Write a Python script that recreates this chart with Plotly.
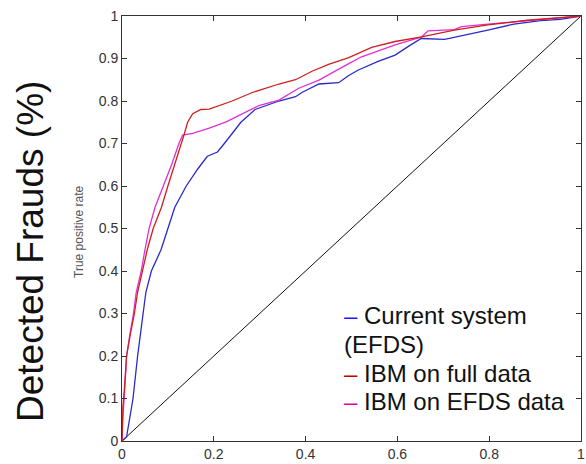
import plotly.graph_objects as go

# ---- data ----
blue_x = [0, 0.01, 0.024, 0.034, 0.046, 0.052, 0.064, 0.085, 0.1, 0.115, 0.14, 0.165, 0.186, 0.208,
          0.223, 0.259, 0.29, 0.342, 0.378, 0.392, 0.429, 0.472, 0.494, 0.515, 0.558, 0.595, 0.623,
          0.652, 0.703, 0.739, 0.797, 0.854, 0.912, 0.955, 1.0]
blue_y = [0, 0.01, 0.1, 0.2, 0.3, 0.35, 0.4, 0.45, 0.5, 0.55, 0.6, 0.64, 0.67, 0.68,
          0.7, 0.75, 0.78, 0.8, 0.81, 0.82, 0.84, 0.843, 0.86, 0.873, 0.893, 0.908, 0.928,
          0.947, 0.945, 0.953, 0.967, 0.981, 0.989, 0.992, 1.0]

red_x = [0, 0.002, 0.005, 0.01, 0.018, 0.027, 0.034, 0.045, 0.055, 0.068, 0.086, 0.1, 0.115, 0.129,
         0.135, 0.143, 0.154, 0.172, 0.19, 0.24, 0.284, 0.342, 0.378, 0.414, 0.45, 0.494, 0.544,
         0.595, 0.653, 0.724, 0.797, 0.883, 0.95, 1.0]
red_y = [0, 0.08, 0.12, 0.2, 0.25, 0.3, 0.35, 0.4, 0.45, 0.5, 0.55, 0.6, 0.65, 0.7,
         0.72, 0.75, 0.77, 0.78, 0.781, 0.8, 0.82, 0.84, 0.85, 0.87, 0.886, 0.902, 0.926,
         0.94, 0.951, 0.967, 0.979, 0.99, 0.995, 1.0]

mag_x = [0, 0.002, 0.006, 0.01, 0.017, 0.025, 0.031, 0.042, 0.05, 0.059, 0.072, 0.09, 0.108, 0.124,
         0.132, 0.154, 0.19, 0.227, 0.263, 0.3, 0.342, 0.385, 0.429, 0.45, 0.494, 0.522, 0.595,
         0.653, 0.667, 0.724, 0.74, 0.797, 0.854, 0.92, 1.0]
mag_y = [0, 0.06, 0.12, 0.2, 0.25, 0.3, 0.35, 0.4, 0.45, 0.5, 0.55, 0.6, 0.65, 0.7,
         0.72, 0.724, 0.736, 0.751, 0.771, 0.79, 0.802, 0.83, 0.849, 0.862, 0.888, 0.904, 0.932,
         0.951, 0.965, 0.968, 0.975, 0.981, 0.986, 0.992, 1.0]

diag_x = [0, 1]
diag_y = [0, 1]

x_ticks = [0, 0.2, 0.4, 0.6, 0.8, 1.0]
x_tick_labels = ["0", "0.2", "0.4", "0.6", "0.8", "1"]
y_ticks = [0, 0.1, 0.2, 0.3, 0.4, 0.5, 0.6, 0.7, 0.8, 0.9, 1.0]
y_tick_labels = ["0", "0.1", "0.2", "0.3", "0.4", "0.5", "0.6", "0.7", "0.8", "0.9", "1"]

series_names = ["Current system (EFDS)", "IBM on full data", "IBM on EFDS data"]
series_colors = ["#2a2ac8", "#cc2020", "#e030d0"]
legend_dash_colors = ["#1a1aff", "#c00000", "#e000a0"]

FONT = "Arial, Liberation Sans, Helvetica, sans-serif"

fig = go.Figure()
fig.add_trace(go.Scatter(x=diag_x, y=diag_y, mode="lines", line=dict(color="#111111", width=1),
                         showlegend=False, hoverinfo="skip"))
fig.add_trace(go.Scatter(x=blue_x, y=blue_y, mode="lines", name=series_names[0],
                         line=dict(color=series_colors[0], width=1.3), showlegend=False))
fig.add_trace(go.Scatter(x=mag_x, y=mag_y, mode="lines", name=series_names[2],
                         line=dict(color=series_colors[2], width=1.3), showlegend=False))
fig.add_trace(go.Scatter(x=red_x, y=red_y, mode="lines", name=series_names[1],
                         line=dict(color=series_colors[1], width=1.3), showlegend=False))

axis_common = dict(showgrid=False, zeroline=False, showline=True, linecolor="#333333", linewidth=1,
                   mirror="ticks", ticks="inside", ticklen=5, tickcolor="#333333",
                   ticklabeloverflow="allow", automargin=False,
                   tickfont=dict(family=FONT, size=14, color="#333333"))
fig.update_xaxes(range=[0, 1], tickvals=x_ticks, ticktext=x_tick_labels, **axis_common)
fig.update_yaxes(range=[0, 1], tickvals=y_ticks, ticktext=y_tick_labels, **axis_common)

PLOT_L, PLOT_R, PLOT_T, PLOT_B = 122, 581, 16, 441

# legend-like text block (matching the reference's dash + text style)
leg_lines = [
    (f"<span style='color:{legend_dash_colors[0]}'>–</span> Current system", 315),
    ("(EFDS)", 344),
    (f"<span style='color:{legend_dash_colors[1]}'>–</span> IBM on full data", 373),
    (f"<span style='color:{legend_dash_colors[2]}'>–</span> IBM on EFDS data", 401),
]
for txt, py in leg_lines:
    fig.add_annotation(x=(342 - PLOT_L) / (PLOT_R - PLOT_L), y=(PLOT_B - py) / (PLOT_B - PLOT_T),
                       xref="paper", yref="paper", xanchor="left", yanchor="middle",
                       text=txt, showarrow=False, font=dict(family=FONT, size=24, color="#111111"))

# big y title
fig.add_annotation(x=(30 - PLOT_L) / (PLOT_R - PLOT_L), y=(PLOT_B - 252) / (PLOT_B - PLOT_T),
                   xref="paper", yref="paper", xanchor="center", yanchor="middle",
                   text="Detected Frauds (%)", textangle=-90, showarrow=False,
                   font=dict(family=FONT, size=37, color="#111111"))
# small original y label
fig.add_annotation(x=(79 - PLOT_L) / (PLOT_R - PLOT_L), y=(PLOT_B - 232) / (PLOT_B - PLOT_T),
                   xref="paper", yref="paper", xanchor="center", yanchor="middle",
                   text="True positive rate", textangle=-90, showarrow=False,
                   font=dict(family=FONT, size=12, color="#555555"))

fig.update_layout(width=586, height=464, plot_bgcolor="white", paper_bgcolor="white",
                  margin=dict(l=PLOT_L, r=586 - PLOT_R, t=PLOT_T, b=464 - PLOT_B),
                  showlegend=False)

fig.write_html("out.html")
